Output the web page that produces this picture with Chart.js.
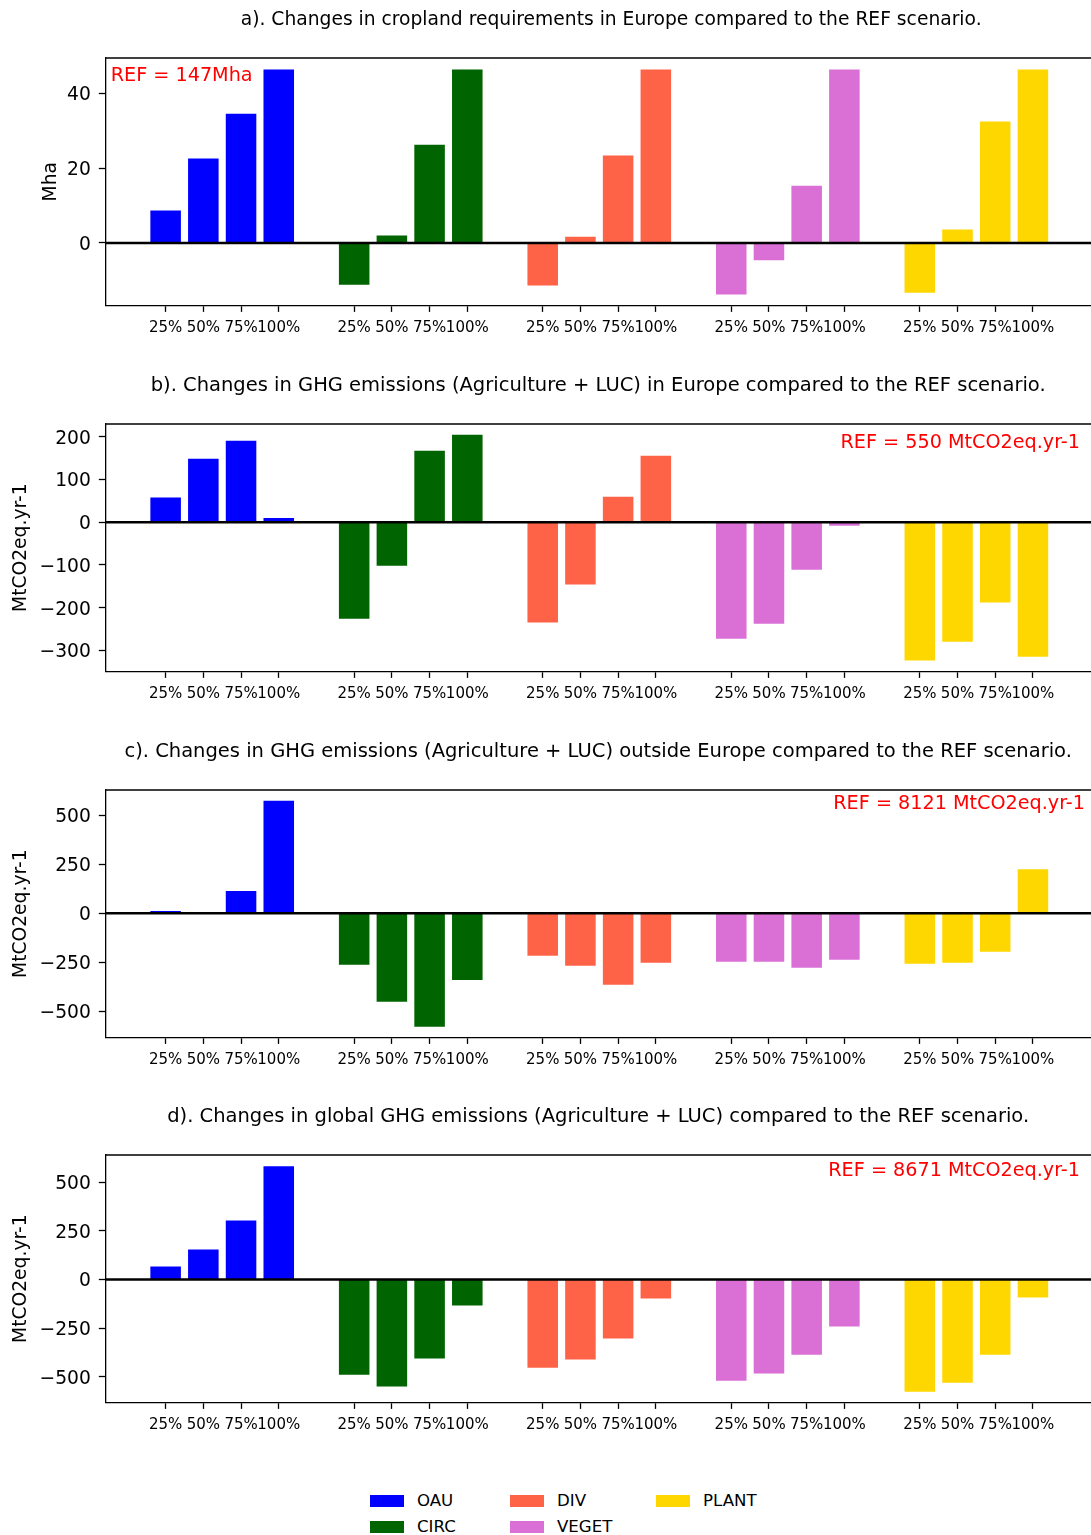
<!DOCTYPE html>
<html><head><meta charset="utf-8">
<script src="https://cdn.jsdelivr.net/npm/chart.js@4/dist/chart.umd.min.js"></script>
<style>
html,body{margin:0;padding:0;background:#fff;width:1091px;height:1535px;overflow:hidden;font-family:'DejaVu Sans',sans-serif;}
.panel{position:absolute;left:0;width:1091px;height:346px;overflow:hidden;}
.lg{position:absolute;font-size:16.6px;color:#000;line-height:20px;white-space:nowrap;}
.lg i{position:absolute;left:0;top:4px;width:34px;height:12px;}
.lg span{position:absolute;left:47px;top:0;}
</style></head><body>
<div class="panel" style="top:0px"><canvas id="c0" width="1117" height="346"></canvas></div>
<div class="panel" style="top:366px"><canvas id="c1" width="1091" height="346"></canvas></div>
<div class="panel" style="top:732px"><canvas id="c2" width="1091" height="346"></canvas></div>
<div class="panel" style="top:1097px"><canvas id="c3" width="1091" height="346"></canvas></div>
<div id="legend"></div>
<script>
// ---- data ----
const groups = ['OAU', 'CIRC', 'DIV', 'VEGET', 'PLANT'];
const levels = ['25%', '50%', '75%', '100%'];
// rows follow groups order, columns follow levels order
const croplandEurope = [
  [8.7, 22.6, 34.6, 46.4],
  [-11.2, 2.0, 26.3, 46.4],
  [-11.4, 1.7, 23.4, 46.4],
  [-13.8, -4.6, 15.3, 46.4],
  [-13.3, 3.6, 32.5, 46.4]
];
const ghgEurope = [
  [58, 149, 191, 10],
  [-226, -102, 168, 205],
  [-235, -146, 60, 156],
  [-273, -238, -111, -8],
  [-324, -280, -188, -315]
];
const ghgOutside = [
  [12, 4, 114, 575],
  [-263, -452, -580, -341],
  [-217, -268, -365, -253],
  [-247, -247, -278, -237],
  [-258, -253, -196, 225]
];
const ghgGlobal = [
  [67, 154, 303, 581],
  [-489, -550, -406, -134],
  [-453, -411, -303, -98],
  [-520, -483, -386, -242],
  [-576, -530, -386, -93]
];
const panelTitles = [
  'a). Changes in cropland requirements in Europe compared to the REF scenario.',
  'b). Changes in GHG emissions (Agriculture + LUC) in Europe compared to the REF scenario.',
  'c). Changes in GHG emissions (Agriculture + LUC) outside Europe compared to the REF scenario.',
  'd). Changes in global GHG emissions (Agriculture + LUC) compared to the REF scenario.'
];
const yTitles = ['Mha', 'MtCO2eq.yr-1', 'MtCO2eq.yr-1', 'MtCO2eq.yr-1'];
const refLabels = ['REF = 147Mha', 'REF = 550 MtCO2eq.yr-1', 'REF = 8121 MtCO2eq.yr-1', 'REF = 8671 MtCO2eq.yr-1'];
const yTicksA = [0, 20, 40];
const yTicksB = [-300, -200, -100, 0, 100, 200];
const yTicksC = [-500, -250, 0, 250, 500];
const yTicksD = [-500, -250, 0, 250, 500];

// ---- styling ----
const groupColors = ['#0000ff', '#006400', '#ff6347', '#da70d6', '#ffd700'];
const FONT = "'DejaVu Sans', sans-serif";
const GROUP_STEP = 5;

const panels = [
  {values: croplandEurope, yTicks: yTicksA, yMin: -16.7, yMax: 49.5, xMax: 25.23, titleSize: 18.7, yTitlePad: 40, ref: {x: 110.7, y: 76, align: 'left'}},
  {values: ghgEurope, yTicks: yTicksB, yMin: -349.4, yMax: 230.4, xMax: 24.54, titleSize: 19.5, yTitlePad: 9.5, ref: {x: 1080, y: 77, align: 'right'}},
  {values: ghgOutside, yTicks: yTicksC, yMin: -634, yMax: 630, xMax: 24.54, titleSize: 19.5, yTitlePad: 9.5, ref: {x: 1085, y: 72.5, align: 'right'}},
  {values: ghgGlobal, yTicks: yTicksD, yMin: -631, yMax: 639, xMax: 24.54, titleSize: 19.5, yTitlePad: 9.5, ref: {x: 1080, y: 74.5, align: 'right'}}
];

const xTickValues = [];
groups.forEach((g, gi) => levels.forEach((l, li) => xTickValues.push(gi * GROUP_STEP + li)));

const fmt = v => (v < 0 ? '\u2212' + Math.abs(v) : String(v));

const framePlugin = {
  id: 'frame',
  afterDatasetsDraw(chart) {
    const {ctx, chartArea: a, scales: {y}} = chart;
    const y0 = y.getPixelForValue(0);
    ctx.save();
    ctx.strokeStyle = '#000';
    ctx.lineWidth = 2.6;
    ctx.beginPath(); ctx.moveTo(a.left, y0); ctx.lineTo(a.right, y0); ctx.stroke();
    ctx.lineWidth = 1.3;
    ctx.beginPath(); ctx.moveTo(a.left, a.top); ctx.lineTo(a.right, a.top); ctx.stroke();
    ctx.restore();
  }
};
const refPlugin = {
  id: 'refLabel',
  afterDraw(chart, args, opts) {
    const ctx = chart.ctx;
    ctx.save();
    ctx.fillStyle = '#ff0000';
    ctx.font = '19.2px ' + FONT;
    ctx.textAlign = opts.align;
    ctx.textBaseline = 'middle';
    ctx.fillText(opts.text, opts.x, opts.y);
    ctx.restore();
  }
};

panels.forEach((p, pi) => {
  const datasets = groups.map((g, gi) => ({
    label: g,
    data: p.values[gi].map((v, li) => ({x: gi * GROUP_STEP + li, y: v})),
    backgroundColor: groupColors[gi],
    borderWidth: 0,
    grouped: false,
    barPercentage: 0.81,
    categoryPercentage: 1.0
  }));
  const tPad = 8.1 + (19.5 - p.titleSize) * 0.6;
  new Chart(document.getElementById('c' + pi), {
    type: 'bar',
    data: {datasets},
    plugins: [framePlugin, refPlugin],
    options: {
      responsive: false,
      animation: false,
      events: [],
      layout: {padding: 0},
      plugins: {
        legend: {display: false},
        tooltip: {enabled: false},
        title: {
          display: true, text: panelTitles[pi], fullSize: false,
          color: '#000', font: {family: FONT, size: p.titleSize, weight: 'normal', lineHeight: 1.2},
          padding: {top: tPad, bottom: 58 - tPad - p.titleSize * 1.2}
        },
        refLabel: {text: refLabels[pi], x: p.ref.x, y: p.ref.y, align: p.ref.align}
      },
      scales: {
        x: {
          type: 'linear', offset: false, min: -1.6, max: p.xMax,
          afterBuildTicks: s => { s.ticks = xTickValues.map(v => ({value: v})); },
          afterFit: s => { s.height = 40.6; },
          ticks: {
            autoSkip: false, maxRotation: 0, color: '#000', padding: 7,
            font: {family: FONT, size: 15},
            callback: v => levels[v % GROUP_STEP]
          },
          grid: {display: true, offset: false, drawOnChartArea: false, drawTicks: true, tickLength: 6.5, tickColor: '#000', tickWidth: 1.3},
          border: {display: true, color: '#000', width: 1.3}
        },
        y: {
          type: 'linear', min: p.yMin, max: p.yMax,
          afterBuildTicks: s => { s.ticks = p.yTicks.map(v => ({value: v})); },
          afterFit: s => { s.width = 105.3; },
          ticks: {color: '#000', padding: 8, labelOffset: 2, font: {family: FONT, size: 18.7}, callback: v => fmt(v)},
          grid: {display: true, drawOnChartArea: false, drawTicks: true, tickLength: 6.5, tickColor: '#000', tickWidth: 1.3},
          border: {display: true, color: '#000', width: 1.3},
          title: {display: true, text: yTitles[pi], color: '#000', font: {family: FONT, size: 18.7, lineHeight: 1.2}, padding: {top: p.yTitlePad, bottom: 0}}
        }
      }
    }
  });
});

// ---- legend (matplotlib column-major order, 3 columns) ----
const legendCols = [370, 510, 656];
const legendRows = [1491, 1516.5];
const legend = document.getElementById('legend');
groups.forEach((g, gi) => {
  const col = Math.floor(gi / 2), row = gi % 2;
  const d = document.createElement('div');
  d.className = 'lg';
  d.style.left = legendCols[col] + 'px';
  d.style.top = legendRows[row] + 'px';
  d.innerHTML = '<i style="background:' + groupColors[gi] + '"></i><span>' + g + '</span>';
  legend.appendChild(d);
});
</script>
</body></html>
